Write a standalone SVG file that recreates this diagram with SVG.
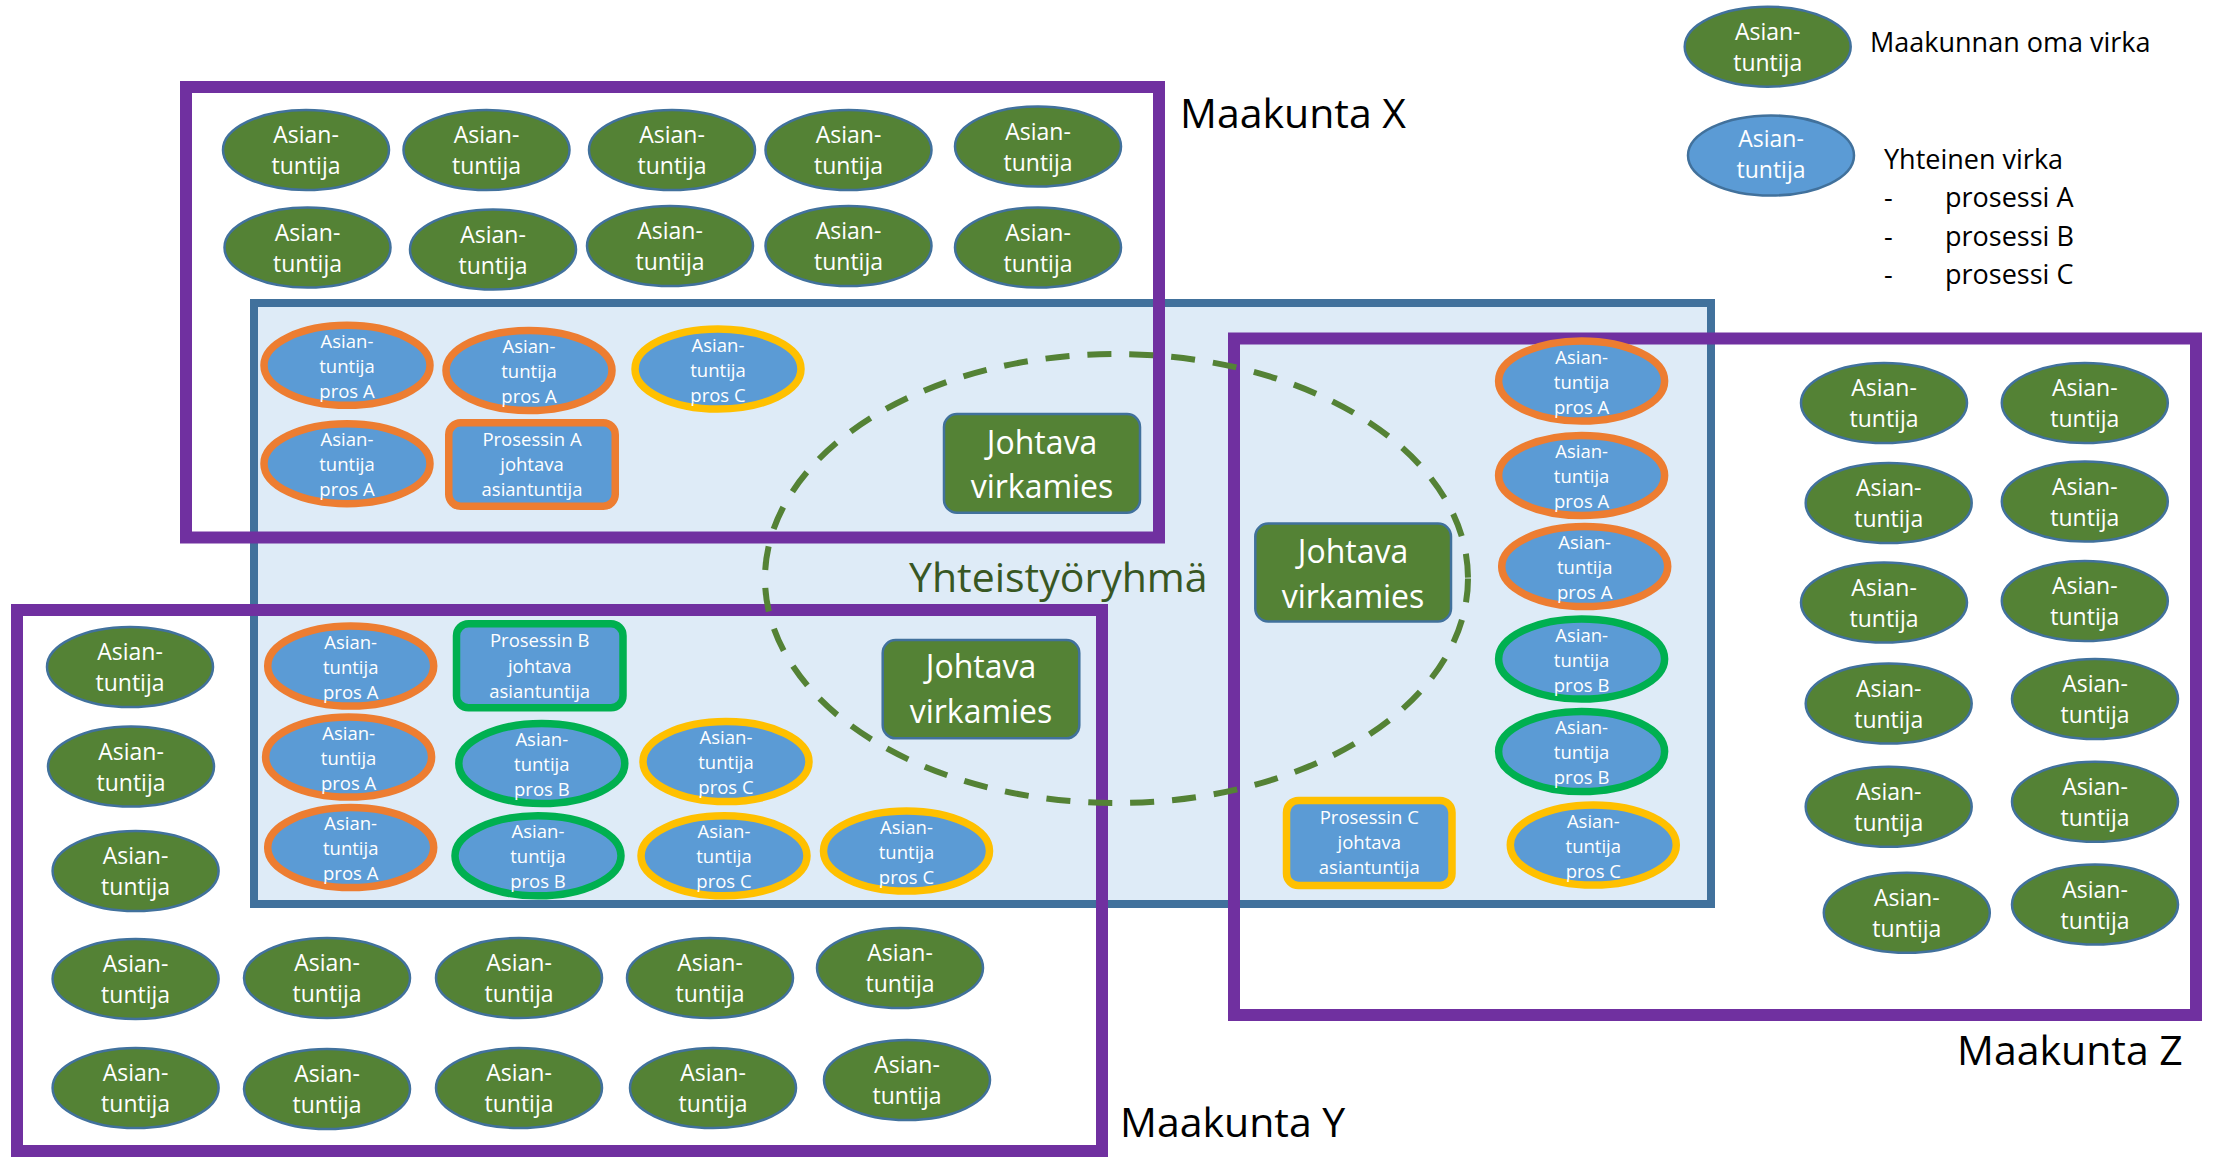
<svg xmlns="http://www.w3.org/2000/svg" width="2215" height="1158" viewBox="0 0 2215 1158">
<style>
text{font-family:"Open Sans","Noto Sans","Liberation Sans",sans-serif;}
.g{fill:#548235;stroke:#41719C;stroke-width:2.5;}
.bl{fill:#5B9BD5;stroke:#41719C;stroke-width:2.5;}
.b{fill:#5B9BD5;stroke-width:7.5;}
.oa{stroke:#ED7D31;}
.gb{stroke:#00B050;}
.yc{stroke:#FFC000;}
.tg{fill:#fff;font-size:23px;text-anchor:middle;}
.tb{fill:#fff;font-size:18.5px;text-anchor:middle;}
.tj{fill:#fff;font-size:32px;text-anchor:middle;}
.jv{fill:#548235;stroke:#41719C;stroke-width:2.5;}
.mk{fill:none;stroke:#7030A0;stroke-width:12;}
.lbl{fill:#000;font-size:41px;}
.leg{fill:#000;font-size:27px;}
</style>

<g id="yhteistyoryhma-area">
<rect x="254" y="303" width="1457" height="601" fill="#DEEBF7" stroke="#41719C" stroke-width="8"/>
</g>

<g id="maakunta-x"><rect class="mk" x="186" y="87" width="973" height="450.5"/><text class="lbl" x="1180" y="128">Maakunta X</text></g>
<g id="maakunta-y"><rect class="mk" x="17" y="610" width="1085" height="541"/><text class="lbl" x="1120" y="1137">Maakunta Y</text></g>
<g id="maakunta-z"><rect class="mk" x="1234" y="338.5" width="962" height="676.5"/><text class="lbl" x="1957" y="1065">Maakunta Z</text></g>

<g id="yhteistyoryhma">
<ellipse cx="1116.5" cy="578.5" rx="351.5" ry="224.5" fill="none" stroke="#548235" stroke-width="6" stroke-dasharray="24 18"/>
<text x="909" y="592" font-size="41" fill="#385723">Yhteistyöryhmä</text>
</g>

<g id="connectors"/>

<!-- legend -->
<g id="legend-green"><ellipse class="g" cx="1767.7" cy="46.7" rx="83" ry="40"/><text class="tg" x="1767.7" y="40">Asian-</text><text class="tg" x="1767.7" y="71">tuntija</text></g>
<g id="legend-blue"><ellipse class="bl" cx="1771" cy="155.5" rx="83" ry="40"/><text class="tg" x="1771" y="147">Asian-</text><text class="tg" x="1771" y="178">tuntija</text></g>
<g id="legend-text">
<text class="leg" x="1870" y="52">Maakunnan oma virka</text>
<text class="leg" x="1884" y="169">Yhteinen virka</text>
<text class="leg" x="1884" y="207">-</text><text class="leg" x="1945" y="207">prosessi A</text>
<text class="leg" x="1884" y="246">-</text><text class="leg" x="1945" y="246">prosessi B</text>
<text class="leg" x="1884" y="284">-</text><text class="leg" x="1945" y="284">prosessi C</text>
</g>

<!-- Maakunta X own -->
<g id="x1"><ellipse class="g" cx="306" cy="150" rx="83" ry="40"/><text class="tg" x="306" y="143">Asian-</text><text class="tg" x="306" y="174">tuntija</text></g>
<g id="x2"><ellipse class="g" cx="486.5" cy="150" rx="83" ry="40"/><text class="tg" x="486.5" y="143">Asian-</text><text class="tg" x="486.5" y="174">tuntija</text></g>
<g id="x3"><ellipse class="g" cx="672" cy="150" rx="83" ry="40"/><text class="tg" x="672" y="143">Asian-</text><text class="tg" x="672" y="174">tuntija</text></g>
<g id="x4"><ellipse class="g" cx="848.5" cy="150" rx="83" ry="40"/><text class="tg" x="848.5" y="143">Asian-</text><text class="tg" x="848.5" y="174">tuntija</text></g>
<g id="x5"><ellipse class="g" cx="1038" cy="146.5" rx="83" ry="40"/><text class="tg" x="1038" y="139.5">Asian-</text><text class="tg" x="1038" y="170.5">tuntija</text></g>
<g id="x6"><ellipse class="g" cx="307.5" cy="247.5" rx="83" ry="40"/><text class="tg" x="307.5" y="240.5">Asian-</text><text class="tg" x="307.5" y="271.5">tuntija</text></g>
<g id="x7"><ellipse class="g" cx="493" cy="249.5" rx="83" ry="40"/><text class="tg" x="493" y="242.5">Asian-</text><text class="tg" x="493" y="273.5">tuntija</text></g>
<g id="x8"><ellipse class="g" cx="670" cy="246" rx="83" ry="40"/><text class="tg" x="670" y="239">Asian-</text><text class="tg" x="670" y="270">tuntija</text></g>
<g id="x9"><ellipse class="g" cx="848.5" cy="246" rx="83" ry="40"/><text class="tg" x="848.5" y="239">Asian-</text><text class="tg" x="848.5" y="270">tuntija</text></g>
<g id="x10"><ellipse class="g" cx="1038" cy="247.5" rx="83" ry="40"/><text class="tg" x="1038" y="240.5">Asian-</text><text class="tg" x="1038" y="271.5">tuntija</text></g>

<!-- Maakunta Y own -->
<g id="y1"><ellipse class="g" cx="130" cy="667" rx="83" ry="40"/><text class="tg" x="130" y="660">Asian-</text><text class="tg" x="130" y="691">tuntija</text></g>
<g id="y2"><ellipse class="g" cx="131" cy="766.5" rx="83" ry="40"/><text class="tg" x="131" y="759.5">Asian-</text><text class="tg" x="131" y="790.5">tuntija</text></g>
<g id="y3"><ellipse class="g" cx="135.6" cy="871" rx="83" ry="40"/><text class="tg" x="135.6" y="864">Asian-</text><text class="tg" x="135.6" y="895">tuntija</text></g>
<g id="y4"><ellipse class="g" cx="135.6" cy="979" rx="83" ry="40"/><text class="tg" x="135.6" y="972">Asian-</text><text class="tg" x="135.6" y="1003">tuntija</text></g>
<g id="y5"><ellipse class="g" cx="327" cy="978" rx="83" ry="40"/><text class="tg" x="327" y="971">Asian-</text><text class="tg" x="327" y="1002">tuntija</text></g>
<g id="y6"><ellipse class="g" cx="519" cy="978" rx="83" ry="40"/><text class="tg" x="519" y="971">Asian-</text><text class="tg" x="519" y="1002">tuntija</text></g>
<g id="y7"><ellipse class="g" cx="710" cy="978" rx="83" ry="40"/><text class="tg" x="710" y="971">Asian-</text><text class="tg" x="710" y="1002">tuntija</text></g>
<g id="y8"><ellipse class="g" cx="900" cy="968" rx="83" ry="40"/><text class="tg" x="900" y="961">Asian-</text><text class="tg" x="900" y="992">tuntija</text></g>
<g id="y9"><ellipse class="g" cx="135.6" cy="1088" rx="83" ry="40"/><text class="tg" x="135.6" y="1081">Asian-</text><text class="tg" x="135.6" y="1112">tuntija</text></g>
<g id="y10"><ellipse class="g" cx="327" cy="1089" rx="83" ry="40"/><text class="tg" x="327" y="1082">Asian-</text><text class="tg" x="327" y="1113">tuntija</text></g>
<g id="y11"><ellipse class="g" cx="519" cy="1088" rx="83" ry="40"/><text class="tg" x="519" y="1081">Asian-</text><text class="tg" x="519" y="1112">tuntija</text></g>
<g id="y12"><ellipse class="g" cx="713" cy="1088" rx="83" ry="40"/><text class="tg" x="713" y="1081">Asian-</text><text class="tg" x="713" y="1112">tuntija</text></g>
<g id="y13"><ellipse class="g" cx="907" cy="1080" rx="83" ry="40"/><text class="tg" x="907" y="1073">Asian-</text><text class="tg" x="907" y="1104">tuntija</text></g>

<!-- Maakunta Z own -->
<g id="z1"><ellipse class="g" cx="1884" cy="403" rx="83" ry="40"/><text class="tg" x="1884" y="396">Asian-</text><text class="tg" x="1884" y="427">tuntija</text></g>
<g id="z2"><ellipse class="g" cx="1888.7" cy="503" rx="83" ry="40"/><text class="tg" x="1888.7" y="496">Asian-</text><text class="tg" x="1888.7" y="527">tuntija</text></g>
<g id="z3"><ellipse class="g" cx="1884" cy="602.6" rx="83" ry="40"/><text class="tg" x="1884" y="595.6">Asian-</text><text class="tg" x="1884" y="626.6">tuntija</text></g>
<g id="z4"><ellipse class="g" cx="1888.7" cy="703.6" rx="83" ry="40"/><text class="tg" x="1888.7" y="696.6">Asian-</text><text class="tg" x="1888.7" y="727.6">tuntija</text></g>
<g id="z5"><ellipse class="g" cx="1888.7" cy="806.8" rx="83" ry="40"/><text class="tg" x="1888.7" y="799.8">Asian-</text><text class="tg" x="1888.7" y="830.8">tuntija</text></g>
<g id="z6"><ellipse class="g" cx="1906.8" cy="912.8" rx="83" ry="40"/><text class="tg" x="1906.8" y="905.8">Asian-</text><text class="tg" x="1906.8" y="936.8">tuntija</text></g>
<g id="z7"><ellipse class="g" cx="2084.8" cy="403" rx="83" ry="40"/><text class="tg" x="2084.8" y="396">Asian-</text><text class="tg" x="2084.8" y="427">tuntija</text></g>
<g id="z8"><ellipse class="g" cx="2084.8" cy="501.5" rx="83" ry="40"/><text class="tg" x="2084.8" y="494.5">Asian-</text><text class="tg" x="2084.8" y="525.5">tuntija</text></g>
<g id="z9"><ellipse class="g" cx="2084.8" cy="601" rx="83" ry="40"/><text class="tg" x="2084.8" y="594">Asian-</text><text class="tg" x="2084.8" y="625">tuntija</text></g>
<g id="z10"><ellipse class="g" cx="2095" cy="699" rx="83" ry="40"/><text class="tg" x="2095" y="692">Asian-</text><text class="tg" x="2095" y="723">tuntija</text></g>
<g id="z11"><ellipse class="g" cx="2095" cy="801.8" rx="83" ry="40"/><text class="tg" x="2095" y="794.8">Asian-</text><text class="tg" x="2095" y="825.8">tuntija</text></g>
<g id="z12"><ellipse class="g" cx="2095" cy="904.6" rx="83" ry="40"/><text class="tg" x="2095" y="897.6">Asian-</text><text class="tg" x="2095" y="928.6">tuntija</text></g>

<!-- Shared posts, X area -->
<g id="sx1"><ellipse class="b oa" cx="347" cy="365.3" rx="83" ry="40"/><text class="tb" x="347" y="348">Asian-</text><text class="tb" x="347" y="373">tuntija</text><text class="tb" x="347" y="398">pros A</text></g>
<g id="sx2"><ellipse class="b oa" cx="529" cy="370.5" rx="83" ry="40"/><text class="tb" x="529" y="353">Asian-</text><text class="tb" x="529" y="378">tuntija</text><text class="tb" x="529" y="403">pros A</text></g>
<g id="sx3"><ellipse class="b yc" cx="718" cy="369" rx="83" ry="40"/><text class="tb" x="718" y="351.5">Asian-</text><text class="tb" x="718" y="376.5">tuntija</text><text class="tb" x="718" y="401.5">pros C</text></g>
<g id="sx4"><ellipse class="b oa" cx="347" cy="463.7" rx="83" ry="40"/><text class="tb" x="347" y="446">Asian-</text><text class="tb" x="347" y="471">tuntija</text><text class="tb" x="347" y="496">pros A</text></g>
<g id="lead-a"><rect class="b oa" x="448.75" y="422.75" width="166.5" height="83.5" rx="12"/><text class="tb" x="532" y="446">Prosessin A</text><text class="tb" x="532" y="471">johtava</text><text class="tb" x="532" y="496">asiantuntija</text></g>
<g id="johtava-x"><rect class="jv" x="944" y="414" width="196" height="98.7" rx="13"/><text class="tj" x="1042" y="454">Johtava</text><text class="tj" x="1042" y="498">virkamies</text></g>

<!-- Shared posts, Y area -->
<g id="sy1"><ellipse class="b oa" cx="350.7" cy="666" rx="83" ry="40"/><text class="tb" x="350.7" y="648.5">Asian-</text><text class="tb" x="350.7" y="673.5">tuntija</text><text class="tb" x="350.7" y="698.5">pros A</text></g>
<g id="lead-b"><rect class="b gb" x="456.5" y="623.75" width="166.5" height="84" rx="12"/><text class="tb" x="539.7" y="647">Prosessin B</text><text class="tb" x="539.7" y="672.5">johtava</text><text class="tb" x="539.7" y="697.5">asiantuntija</text></g>
<g id="sy2"><ellipse class="b oa" cx="348.6" cy="757" rx="83" ry="40"/><text class="tb" x="348.6" y="739.5">Asian-</text><text class="tb" x="348.6" y="764.5">tuntija</text><text class="tb" x="348.6" y="789.5">pros A</text></g>
<g id="sy3"><ellipse class="b gb" cx="541.8" cy="763.5" rx="83" ry="40"/><text class="tb" x="541.8" y="746">Asian-</text><text class="tb" x="541.8" y="771">tuntija</text><text class="tb" x="541.8" y="796">pros B</text></g>
<g id="sy4"><ellipse class="b yc" cx="726" cy="761.6" rx="83" ry="40"/><text class="tb" x="726" y="744">Asian-</text><text class="tb" x="726" y="769">tuntija</text><text class="tb" x="726" y="794">pros C</text></g>
<g id="sy5"><ellipse class="b oa" cx="350.7" cy="847.6" rx="83" ry="40"/><text class="tb" x="350.7" y="830">Asian-</text><text class="tb" x="350.7" y="855">tuntija</text><text class="tb" x="350.7" y="880">pros A</text></g>
<g id="sy6"><ellipse class="b gb" cx="538" cy="855.8" rx="83" ry="40"/><text class="tb" x="538" y="838.3">Asian-</text><text class="tb" x="538" y="863.3">tuntija</text><text class="tb" x="538" y="888.3">pros B</text></g>
<g id="sy7"><ellipse class="b yc" cx="724" cy="855.8" rx="83" ry="40"/><text class="tb" x="724" y="838.3">Asian-</text><text class="tb" x="724" y="863.3">tuntija</text><text class="tb" x="724" y="888.3">pros C</text></g>
<g id="sy8"><ellipse class="b yc" cx="906.5" cy="851" rx="83" ry="40"/><text class="tb" x="906.5" y="833.5">Asian-</text><text class="tb" x="906.5" y="858.5">tuntija</text><text class="tb" x="906.5" y="883.5">pros C</text></g>
<g id="johtava-y"><rect class="jv" x="882.7" y="640" width="196.6" height="98.3" rx="13"/><text class="tj" x="981" y="678">Johtava</text><text class="tj" x="981" y="723">virkamies</text></g>

<!-- Shared posts, Z area -->
<g id="johtava-z"><rect class="jv" x="1255.3" y="523.5" width="195.7" height="97.9" rx="13"/><text class="tj" x="1353" y="563">Johtava</text><text class="tj" x="1353" y="607.5">virkamies</text></g>
<g id="sz1"><ellipse class="b oa" cx="1581.6" cy="381" rx="83" ry="40"/><text class="tb" x="1581.6" y="363.5">Asian-</text><text class="tb" x="1581.6" y="388.5">tuntija</text><text class="tb" x="1581.6" y="413.5">pros A</text></g>
<g id="sz2"><ellipse class="b oa" cx="1581.6" cy="475.5" rx="83" ry="40"/><text class="tb" x="1581.6" y="458">Asian-</text><text class="tb" x="1581.6" y="483">tuntija</text><text class="tb" x="1581.6" y="508">pros A</text></g>
<g id="sz3"><ellipse class="b oa" cx="1584.7" cy="566.6" rx="83" ry="40"/><text class="tb" x="1584.7" y="549">Asian-</text><text class="tb" x="1584.7" y="574">tuntija</text><text class="tb" x="1584.7" y="599">pros A</text></g>
<g id="sz4"><ellipse class="b gb" cx="1581.6" cy="659" rx="83" ry="40"/><text class="tb" x="1581.6" y="641.5">Asian-</text><text class="tb" x="1581.6" y="666.5">tuntija</text><text class="tb" x="1581.6" y="691.5">pros B</text></g>
<g id="sz5"><ellipse class="b gb" cx="1581.6" cy="751.5" rx="83" ry="40"/><text class="tb" x="1581.6" y="734">Asian-</text><text class="tb" x="1581.6" y="759">tuntija</text><text class="tb" x="1581.6" y="784">pros B</text></g>
<g id="lead-c"><rect class="b yc" x="1286.5" y="800.5" width="165.5" height="85" rx="12"/><text class="tb" x="1369.3" y="823.5">Prosessin C</text><text class="tb" x="1369.3" y="848.5">johtava</text><text class="tb" x="1369.3" y="873.5">asiantuntija</text></g>
<g id="sz6"><ellipse class="b yc" cx="1593.3" cy="845" rx="83" ry="40"/><text class="tb" x="1593.3" y="827.5">Asian-</text><text class="tb" x="1593.3" y="852.5">tuntija</text><text class="tb" x="1593.3" y="877.5">pros C</text></g>
</svg>
